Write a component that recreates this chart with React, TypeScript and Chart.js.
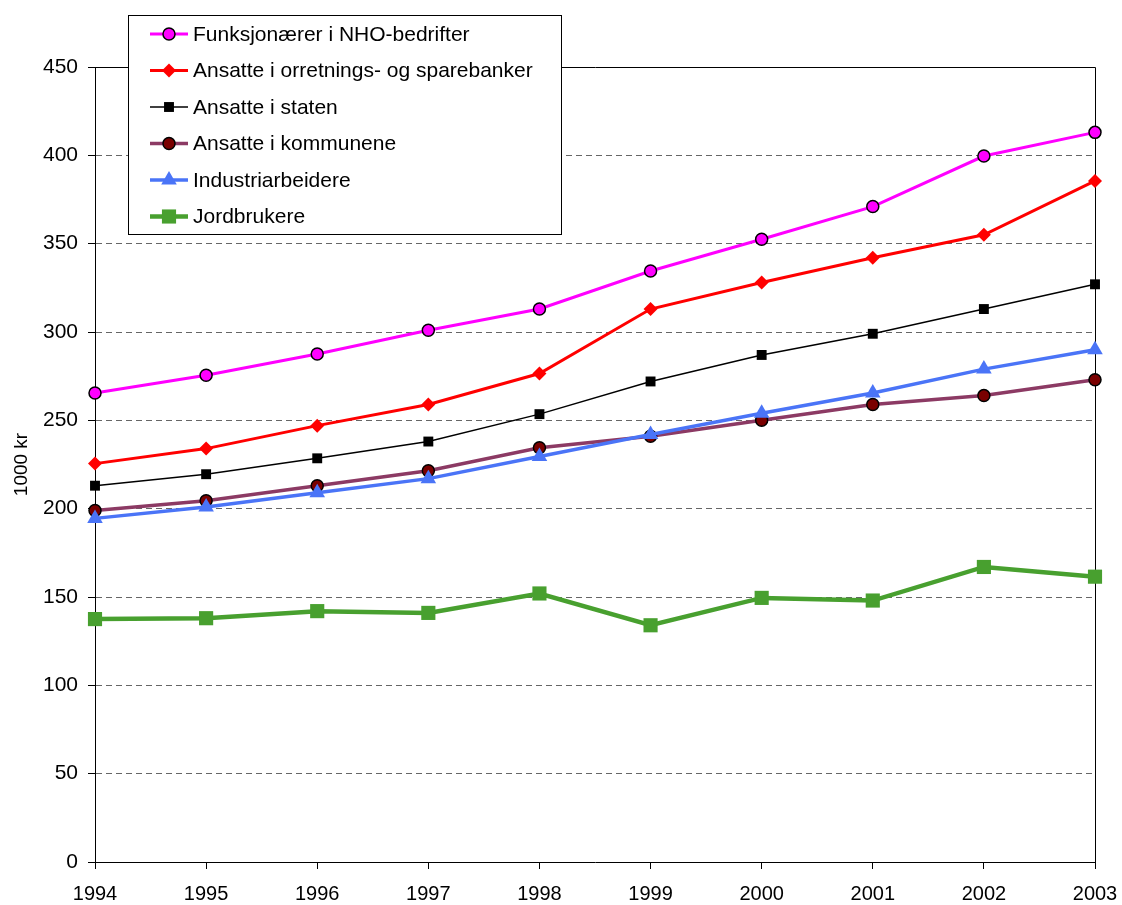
import React, { useEffect, useRef } from 'react';
import { Chart, registerables } from 'chart.js';

Chart.register(...registerables);

const years = ['1994', '1995', '1996', '1997', '1998', '1999', '2000', '2001', '2002', '2003'];
const nhoValues = [265.5, 275.5, 287.5, 301, 313, 334.5, 352.5, 371, 399.6, 413];
const bankValues = [225.5, 234, 247, 259, 276.5, 313, 328, 342, 355, 385.5];
const statValues = [213, 219.5, 228.5, 238, 253.5, 272, 287, 299, 313, 327];
const kommuneValues = [199, 204.5, 213, 221.5, 234.5, 241, 250, 259, 264, 273];
const industriValues = [194.5, 201, 209, 217, 229.5, 242, 254, 265.5, 279, 290];
const jordValues = [137.5, 138, 142, 141, 152, 134, 149.5, 148, 167, 161.5];
const yTicks = [0, 50, 100, 150, 200, 250, 300, 350, 400, 450];

const FONT = '"Liberation Sans", Arial, sans-serif';

function drawMarker(ctx: CanvasRenderingContext2D, style: string, x: number, y: number, r: number, fill: string, stroke: string, bw: number) {
  ctx.save();
  ctx.beginPath();
  if (style === 'circle') {
    ctx.arc(x, y, r, 0, Math.PI * 2);
  } else if (style === 'rectRot') {
    ctx.moveTo(x, y - r);
    ctx.lineTo(x + r, y);
    ctx.lineTo(x, y + r);
    ctx.lineTo(x - r, y);
    ctx.closePath();
  } else if (style === 'rect') {
    const s = Math.SQRT1_2 * r;
    ctx.rect(x - s, y - s, 2 * s, 2 * s);
  } else if (style === 'triangle') {
    ctx.moveTo(x, y - r);
    ctx.lineTo(x + r * 0.866, y + r * 0.5);
    ctx.lineTo(x - r * 0.866, y + r * 0.5);
    ctx.closePath();
  }
  ctx.fillStyle = fill;
  ctx.fill();
  if (bw > 0) {
    ctx.lineWidth = bw;
    ctx.strokeStyle = stroke;
    ctx.stroke();
  }
  ctx.restore();
}

const legendPlugin = {
  id: 'customLegend',
  afterDraw(chart: any) {
    const ctx: CanvasRenderingContext2D = chart.ctx;
    ctx.save();
    const x0 = 128.5, y0 = 15.5, w = 433, h = 219;
    ctx.fillStyle = '#ffffff';
    ctx.fillRect(x0, y0, w, h);
    ctx.strokeStyle = '#000';
    ctx.lineWidth = 1;
    ctx.strokeRect(x0, y0, w, h);
    ctx.font = '21px ' + FONT;
    ctx.textBaseline = 'middle';
    ctx.textAlign = 'left';
    chart.data.datasets.forEach((ds: any, i: number) => {
      const y = 34 + i * 36.5;
      ctx.beginPath();
      ctx.strokeStyle = ds.borderColor;
      ctx.lineWidth = ds.borderWidth;
      ctx.moveTo(150, y);
      ctx.lineTo(188, y);
      ctx.stroke();
      drawMarker(ctx, ds.pointStyle, 169, y, ds.pointRadius, ds.pointBackgroundColor, ds.pointBorderColor, ds.pointBorderWidth);
      ctx.fillStyle = '#000';
      ctx.fillText(ds.label, 193, y + 1);
    });
    ctx.restore();
  },
};

const framePlugin = {
  id: 'frame',
  beforeDatasetsDraw(chart: any) {
    const { ctx, chartArea } = chart;
    ctx.save();
    ctx.strokeStyle = '#000';
    ctx.lineWidth = 1;
    ctx.beginPath();
    ctx.moveTo(Math.round(chartArea.left) + 0.5, Math.round(chartArea.top) + 0.5);
    ctx.lineTo(Math.round(chartArea.right) + 0.5, Math.round(chartArea.top) + 0.5);
    ctx.lineTo(Math.round(chartArea.right) + 0.5, Math.round(chartArea.bottom) + 0.5);
    ctx.stroke();
    ctx.restore();
  },
};

export default function App() {
  const canvasRef = useRef<HTMLCanvasElement | null>(null);

  useEffect(() => {
    if (!canvasRef.current) return;
    Chart.defaults.color = '#000';
    const mk = (label: string, data: number[], color: string, width: number, style: string, r: number, fill: string, border: string, bw: number, order: number) => ({
      label,
      data,
      borderColor: color,
      backgroundColor: color,
      borderWidth: width,
      pointStyle: style,
      pointRadius: r,
      pointHoverRadius: r,
      pointBackgroundColor: fill,
      pointBorderColor: border,
      pointBorderWidth: bw,
      tension: 0,
      fill: false,
      order,
    });
    const chart = new Chart(canvasRef.current, {
      type: 'line',
      data: {
        labels: years,
        datasets: [
          mk('Funksjonærer i NHO-bedrifter', nhoValues, '#ff00ff', 3, 'circle', 6, '#ff00ff', '#000', 1.5, 6),
          mk('Ansatte i orretnings- og sparebanker', bankValues, '#ff0000', 3, 'rectRot', 7, '#ff0000', '#ff0000', 0, 5),
          mk('Ansatte i staten', statValues, '#000000', 1.5, 'rect', 7, '#000000', '#000000', 0, 4),
          mk('Ansatte i kommunene', kommuneValues, '#8c3a64', 3.5, 'circle', 6, '#7a0000', '#000', 1.5, 3),
          mk('Industriarbeidere', industriValues, '#4a74f7', 3.5, 'triangle', 9, '#4a74f7', '#4a74f7', 0, 2),
          mk('Jordbrukere', jordValues, '#48a02f', 4.5, 'rect', 10, '#48a02f', '#48a02f', 0, 1),
        ] as any,
      },
      options: {
        animation: false,
        responsive: false,
        maintainAspectRatio: false,
        events: [],
        layout: { padding: { left: 0, top: 67, right: 27, bottom: 0 } },
        plugins: {
          legend: { display: false },
          tooltip: { enabled: false },
        },
        scales: {
          x: {
            type: 'category',
            offset: false,
            grid: {
              display: true,
              drawOnChartArea: false,
              drawTicks: true,
              tickLength: 7,
              tickColor: '#000',
              tickWidth: 1,
            },
            border: { display: true, color: '#000', width: 1 },
            ticks: {
              font: { family: FONT, size: 20 },
              color: '#000',
              padding: 13,
              maxRotation: 0,
              autoSkip: false,
            },
            afterFit: (scale: any) => {
              scale.height = 43;
              scale.paddingLeft = 0;
              scale.paddingRight = 0;
            },
          },
          y: {
            type: 'linear',
            min: 0,
            max: 450,
            afterBuildTicks: (scale: any) => { scale.ticks = yTicks.map((v) => ({ value: v })); },
            grid: {
              color: (c: any) => (c.tick && (c.tick.value === 0 || c.tick.value === 450) ? 'rgba(0,0,0,0)' : '#666666'),
              lineWidth: 1,
              drawTicks: true,
              tickLength: 7,
              tickColor: '#000',
              tickWidth: 1,
            },
            border: { display: true, color: '#000', width: 1, dash: [6, 4] },
            ticks: {
              font: { family: FONT, size: 21 },
              color: '#000',
              padding: 10,
            },
            title: {
              display: true,
              text: '1000 kr',
              font: { family: FONT, size: 19 },
              color: '#000',
              padding: { top: 10, bottom: 0 },
            },
            afterFit: (scale: any) => {
              scale.width = 95;
              scale.paddingTop = 0;
              scale.paddingBottom = 0;
            },
          },
        },
      } as any,
      plugins: [framePlugin, legendPlugin],
    });
    return () => chart.destroy();
  }, []);

  return (
    <div style={{ position: 'absolute', left: 0, top: 0, width: 1122, height: 905, background: '#fff' }}>
      <canvas ref={canvasRef} width={1122} height={905} style={{ width: 1122, height: 905, display: 'block' }} />
    </div>
  );
}
